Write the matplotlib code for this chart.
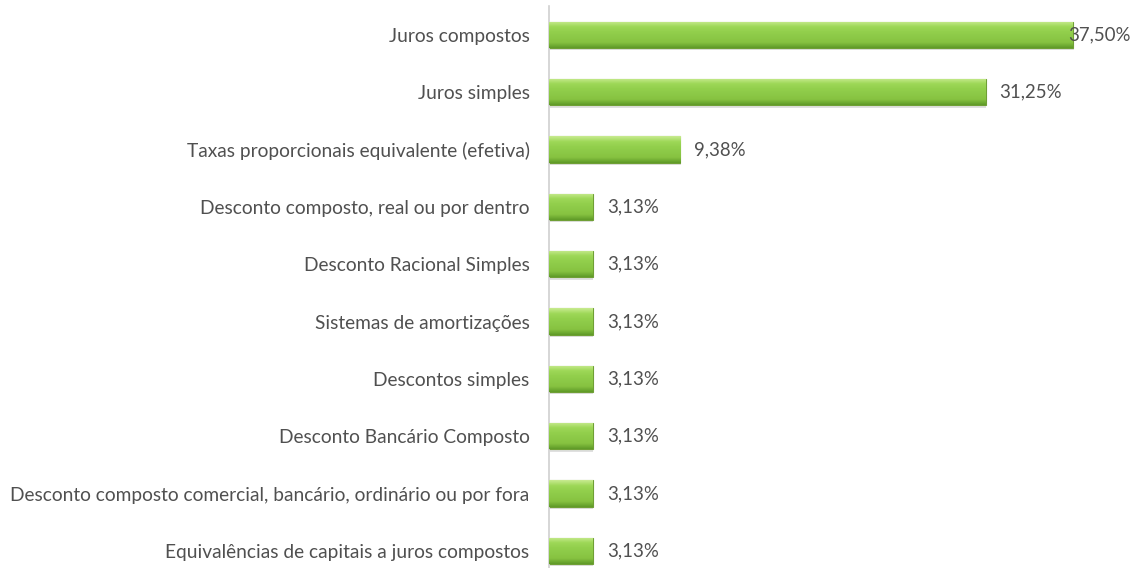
import numpy as np
import matplotlib.pyplot as plt
from matplotlib.colors import LinearSegmentedColormap

categories = [
    "Juros compostos",
    "Juros simples",
    "Taxas proporcionais equivalente (efetiva)",
    "Desconto composto, real ou por dentro",
    "Desconto Racional Simples",
    "Sistemas de amortizações",
    "Descontos simples",
    "Desconto Bancário Composto",
    "Desconto composto comercial, bancário, ordinário ou por fora",
    "Equivalências de capitais a juros compostos",
]
values = [37.50, 31.25, 9.38, 3.13, 3.13, 3.13, 3.13, 3.13, 3.13, 3.13]
value_labels = ["37,50%", "31,25%", "9,38%", "3,13%", "3,13%", "3,13%",
                "3,13%", "3,13%", "3,13%", "3,13%"]

plt.rcParams['font.family'] = ['Lato', 'DejaVu Sans']
txt_color = "#505050"

fig = plt.figure(figsize=(11.32, 5.68), dpi=100)
# category slots are ~57 px tall, first centre at y=35 px
ax = fig.add_axes([549 / 1132, -11.6 / 568, 583 / 1132, 573.3 / 568])

# vertical gradient for the "glossy" green bars (light top, dark bottom)
green = LinearSegmentedColormap.from_list(
    "bar", ["#c8eb90", "#9ed858", "#92cf4c", "#8cc947", "#86c240", "#5f9a28"])
grad = np.linspace(0, 1, 64).reshape(-1, 1)

h = 0.46
pos = np.arange(len(categories))
bars = ax.barh(pos, values, height=h, color="#92cf4c",
               edgecolor="#6f9f35", linewidth=0.8, zorder=2)
for b, i, v in zip(bars, pos, values):
    im = ax.imshow(grad, cmap=green, aspect="auto",
                   extent=[0, v, i + h / 2, i - h / 2], zorder=3)
    im.set_clip_path(b)
    # subtle shadow under each bar
    ax.barh(i + 0.04, v, height=h, left=0.05, color="#000000", alpha=0.12,
            linewidth=0, zorder=1)

for i, v, lab in zip(pos, values, value_labels):
    ax.text(min(v + 1.0, 37.15), i, lab, va="center", ha="left",
            fontsize=13.4, color=txt_color, zorder=4)

ax.set_xlim(0, 41.73)
ax.set_ylim(9.5, -0.5)
ax.set_yticks(pos)
ax.set_yticklabels(categories, fontsize=13.8, color=txt_color)
ax.tick_params(axis="y", length=0, pad=14)
ax.set_xticks([])
for s in ["top", "right", "bottom"]:
    ax.spines[s].set_visible(False)
ax.spines["left"].set_color("#d0d0d0")
ax.spines["left"].set_linewidth(1.2)

fig.savefig("out.png", dpi=100)
